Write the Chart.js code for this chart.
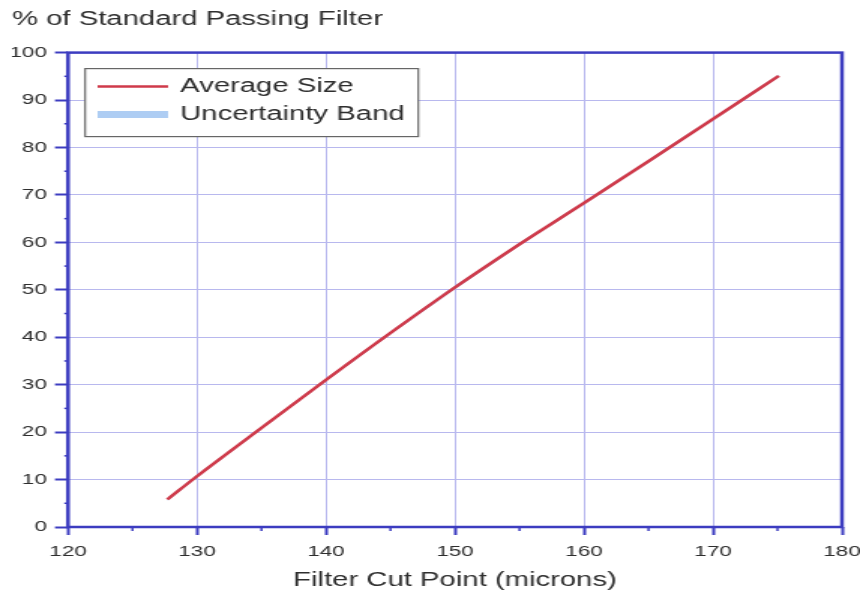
<!DOCTYPE html>
<html>
<head>
<meta charset="utf-8">
<script src="https://cdn.jsdelivr.net/npm/chart.js@4/dist/chart.umd.min.js"></script>
<style>
    html, body { margin: 0; padding: 0; background: #fff; overflow: hidden; }
    #wrap {
        position: absolute; left: 0; top: 0;
        width: 573px; height: 594px;
        transform-origin: 0 0;
        transform: scaleX(1.50087);
    }
</style>
</head>
<body>
<div id="wrap"><canvas id="filterChart"></canvas></div>
<script>
// values
const cutPoints = [127.7, 130, 135, 140, 145, 150, 155, 160, 165, 170, 175.1];
const avgSize   = [5.8, 10.7, 20.9, 31.0, 40.9, 50.5, 59.6, 68.3, 77.1, 86.0, 95.1];
const bandHigh  = [6.1, 11.0, 21.2, 31.3, 41.2, 50.9, 59.9, 68.6, 77.4, 86.3, 95.4];
const bandLow   = [5.5, 10.4, 20.6, 30.7, 40.6, 50.1, 59.3, 68.0, 76.8, 85.7, 94.8];
const legendLabels = ['Average Size', 'Uncertainty Band'];

const FONT = "'Liberation Sans', Arial, sans-serif";
const TEXT = '#2e2e2e';
const FRAME = '#3c3cc0';
const GRID = '#b8b8ee';
const RED = '#cf3a4a';
const BLUE = '#aecdf3';

const toPoints = ys => cutPoints.map((x, i) => ({ x: x, y: ys[i] }));

// blue frame round the plot plus the small minor ticks
const framePlugin = {
    id: 'frame',
    afterDatasetsDraw(chart) {
        const { ctx, chartArea: a, scales } = chart;
        ctx.save();
        ctx.strokeStyle = FRAME;
        ctx.lineWidth = 1.5;
        const xt = scales.x.ticks;
        for (let i = 0; i < xt.length - 1; i++) {
            const px = scales.x.getPixelForValue((xt[i].value + xt[i + 1].value) / 2);
            ctx.beginPath();
            ctx.moveTo(px, a.bottom);
            ctx.lineTo(px, a.bottom + 4);
            ctx.stroke();
        }
        const yt = scales.y.ticks;
        for (let i = 0; i < yt.length - 1; i++) {
            const py = scales.y.getPixelForValue((yt[i].value + yt[i + 1].value) / 2);
            ctx.beginPath();
            ctx.moveTo(a.left - 2.5, py);
            ctx.lineTo(a.left, py);
            ctx.stroke();
        }
        ctx.lineWidth = 2.5;
        ctx.strokeRect(a.left, a.top, a.right - a.left, a.bottom - a.top);
        ctx.restore();
    }
};

// boxed legend inside the top left corner of the plot
const boxLegend = {
    id: 'boxLegend',
    afterDraw(chart) {
        const { ctx, chartArea: a } = chart;
        const bx = a.left + 11.4, by = a.top + 16, bw = 222, bh = 68;
        ctx.save();
        ctx.fillStyle = '#ffffff';
        ctx.fillRect(bx, by, bw, bh);
        ctx.strokeStyle = '#666666';
        ctx.lineWidth = 1.2;
        ctx.strokeRect(bx, by, bw, bh);

        ctx.lineCap = 'butt';
        ctx.strokeStyle = RED;
        ctx.lineWidth = 2.5;
        ctx.beginPath();
        ctx.moveTo(bx + 8.3, by + 18);
        ctx.lineTo(bx + 55.3, by + 18);
        ctx.stroke();

        ctx.strokeStyle = BLUE;
        ctx.lineWidth = 7;
        ctx.beginPath();
        ctx.moveTo(bx + 8.3, by + 46);
        ctx.lineTo(bx + 55.3, by + 46);
        ctx.stroke();

        ctx.fillStyle = TEXT;
        ctx.font = '19.5px ' + FONT;
        ctx.textBaseline = 'middle';
        ctx.fillText(legendLabels[0], bx + 63.3, by + 18);
        ctx.fillText(legendLabels[1], bx + 63.3, by + 46);
        ctx.restore();
    }
};

const ctx = document.getElementById('filterChart').getContext('2d');
new Chart(ctx, {
    type: 'line',
    data: {
        datasets: [
            {
                label: 'band low',
                data: toPoints(bandLow),
                borderWidth: 0,
                pointRadius: 0,
                order: 1,
                fill: false
            },
            {
                label: legendLabels[1],
                data: toPoints(bandHigh),
                borderWidth: 0,
                pointRadius: 0,
                backgroundColor: BLUE,
                order: 1,
                fill: '-1'
            },
            {
                label: legendLabels[0],
                data: toPoints(avgSize),
                borderColor: RED,
                borderWidth: 2.6,
                pointRadius: 0,
                cubicInterpolationMode: 'monotone',
                order: 0,
                fill: false
            }
        ]
    },
    options: {
        responsive: true,
        maintainAspectRatio: false,
        animation: false,
        layout: {
            padding: { left: 8, right: 12, top: 7.6, bottom: 1.6 }
        },
        plugins: {
            legend: { display: false },
            tooltip: { enabled: false },
            title: {
                display: true,
                text: '% of Standard Passing Filter',
                align: 'start',
                color: TEXT,
                font: { family: FONT, size: 19.5, weight: 'normal' },
                padding: { top: 0, bottom: 21.6 }
            }
        },
        scales: {
            x: {
                type: 'linear',
                min: 120,
                max: 180,
                ticks: {
                    stepSize: 10,
                    color: TEXT,
                    padding: 7.7,
                    maxRotation: 0,
                    font: { family: FONT, size: 15 }
                },
                grid: {
                    color: GRID,
                    lineWidth: 1,
                    tickLength: 8,
                    tickColor: FRAME,
                    tickWidth: 2
                },
                border: { display: false },
                title: {
                    display: true,
                    text: 'Filter Cut Point (microns)',
                    color: TEXT,
                    font: { family: FONT, size: 19.5 },
                    padding: { top: 9, bottom: 0 }
                },
                afterFit(scale) {
                    scale.height = 65.4;
                    scale.paddingLeft = 0;
                    scale.paddingRight = 0;
                }
            },
            y: {
                min: 0,
                max: 100,
                ticks: {
                    stepSize: 10,
                    color: TEXT,
                    padding: 5.3,
                    font: { family: FONT, size: 15 }
                },
                grid: {
                    color: GRID,
                    lineWidth: 1,
                    tickLength: 8.7,
                    tickColor: FRAME,
                    tickWidth: 2
                },
                border: { display: false },
                afterFit(scale) {
                    scale.width = 37.3;
                    scale.paddingTop = 0;
                    scale.paddingBottom = 0;
                }
            }
        }
    },
    plugins: [framePlugin, boxLegend]
});
</script>
</body>
</html>
